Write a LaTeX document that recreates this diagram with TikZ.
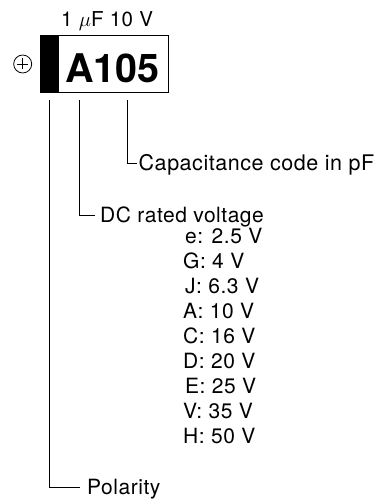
\documentclass[tikz,border=0pt]{standalone}
\usepackage{fontspec}
\setmainfont{TeX Gyre Heros}
\newfontfamily\widefont[LetterSpace=2.5]{TeX Gyre Heros}
\begin{document}
\begin{tikzpicture}[x=1pt,y=-1pt,
  lead/.style={draw=black,line width=1pt},
  lbl/.style={anchor=base west,inner sep=0pt,font=\widefont\fontsize{21}{24}\selectfont},
  vlist/.style={anchor=base west,inner sep=0pt,font=\widefont\fontsize{21}{24}\selectfont}]
\useasboundingbox (0,0) rectangle (375,500);
% capacitor body
\node[draw=black,line width=1.2pt,minimum width=128pt,minimum height=57pt,inner sep=0pt,anchor=north west] (body) at (40,35) {};
\fill[black] (body.north west) rectangle ([xshift=19pt]body.south west);
\node[anchor=base west,inner sep=0pt,font=\fontsize{39.5}{42}\selectfont\bfseries] (code) at (65,83) {A105};
\node[anchor=base west,inner sep=0pt,font=\widefont\fontsize{20.5}{22}\selectfont] (rating) at (61,27) {1 $\mu$F 10 V};
% polarity sign
\node[draw=black,circle,line width=0.8pt,minimum size=18pt,inner sep=0pt] (plus) at (22.7,64) {};
\draw[line width=0.8pt] ([xshift=-5.5pt]plus.center) -- ([xshift=5.5pt]plus.center)
  ([yshift=-5.5pt]plus.center) -- ([yshift=5.5pt]plus.center);
% labels
\node[lbl,font=\widefont\fontsize{21.5}{24}\selectfont] (cap) at (138.5,170.5) {Capacitance code in pF};
\node[lbl] (dc) at (100,222.5) {DC rated voltage};
\node[lbl] (pol) at (87,494.5) {Polarity};
% leader coordinates
\coordinate (capTop) at (127,100);
\coordinate (capCorner) at (127,163);
\coordinate (capEnd) at (137,163);
\coordinate (dcTop) at (79,100);
\coordinate (dcCorner) at (79,215);
\coordinate (dcEnd) at (95,215);
\coordinate (polTop) at (49,100);
\coordinate (polCorner) at (49,487);
\coordinate (polEnd) at (80,487);
\draw[lead] (capTop) -- (capCorner) -- (capEnd);
\draw[lead] (dcTop) -- (dcCorner) -- (dcEnd);
\draw[lead] (polTop) -- (polCorner) -- (polEnd);
% voltage list
\node[vlist] (v1) at (185,243) {e: 2.5 V};
\node[vlist] (v2) at (183,268) {G: 4 V};
\node[vlist] (v3) at (185,293) {J: 6.3 V};
\node[vlist] (v4) at (183,318) {A: 10 V};
\node[vlist] (v5) at (183,343) {C: 16 V};
\node[vlist] (v6) at (183,368) {D: 20 V};
\node[vlist] (v7) at (185,393) {E: 25 V};
\node[vlist] (v8) at (183,418) {V: 35 V};
\node[vlist] (v9) at (183,443) {H: 50 V};
\end{tikzpicture}
\end{document}
